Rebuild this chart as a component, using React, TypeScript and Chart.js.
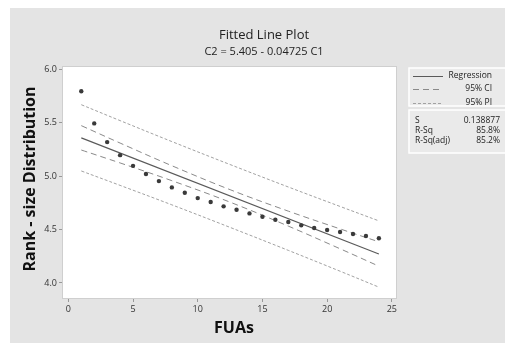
import React, { useEffect, useRef } from "react";
import { Chart, registerables } from "chart.js";

Chart.register(...registerables);

const fuas = [1, 2, 3, 4, 5, 6, 7, 8, 9, 10, 11, 12, 13, 14, 15, 16, 17, 18, 19, 20, 21, 22, 23, 24];
const rankSize = [5.794, 5.493, 5.318, 5.196, 5.096, 5.019, 4.953, 4.894, 4.844, 4.794, 4.757, 4.717, 4.685, 4.651, 4.62, 4.592, 4.57, 4.539, 4.514, 4.495, 4.477, 4.458, 4.439, 4.418];

const fitX = [1, 24];
const fitY = [5.358, 4.271];

const bandX = [1, 4, 8, 12.5, 17, 21, 24];
const ciUpper = [5.472, 5.309, 5.097, 4.873, 4.672, 4.506, 4.385];
const ciLower = [5.244, 5.123, 4.957, 4.756, 4.532, 4.32, 4.157];
const piUpper = [5.668, 5.519, 5.323, 5.108, 4.898, 4.716, 4.581];
const piLower = [5.048, 4.913, 4.731, 4.52, 4.305, 4.11, 3.961];

const xTicks = [0, 5, 10, 15, 20, 25];
const yTicks = [4.0, 4.5, 5.0, 5.5, 6.0];

const titleText = "Fitted Line Plot";
const subtitleText = "C2 = 5.405 - 0.04725 C1";
const xTitle = "FUAs";
const yTitle = "Rank - size Distribution";
const legendLabels = ["Regression", "95% CI", "95% PI"];
const statNames = ["S", "R-Sq", "R-Sq(adj)"];
const statValues = ["0.138877", "85.8%", "85.2%"];

const FONT = '"Open Sans", "Noto Sans", sans-serif';
const REG_COLOR = "#5a5a5a";
const CI_COLOR = "#8a8a8a";
const PI_COLOR = "#a2a2a2";
const CI_DASH = [6, 4];
const PI_DASH = [3, 2];

const pts = (xs: number[], ys: number[]) => xs.map((x, i) => ({ x, y: ys[i] }));

const decorPlugin = {
  id: "decor",
  beforeDraw(chart: any) {
    const { ctx, chartArea } = chart;
    ctx.save();
    ctx.fillStyle = "#ffffff";
    ctx.fillRect(0, 0, chart.width, chart.height);
    ctx.fillStyle = "#e4e4e4";
    ctx.fillRect(10, 8, chart.width - 10, chart.height - 8);
    ctx.fillStyle = "#ffffff";
    ctx.fillRect(chartArea.left, chartArea.top, chartArea.right - chartArea.left, chartArea.bottom - chartArea.top);
    ctx.restore();
  },
  beforeDatasetsDraw(chart: any) {
    const { ctx, chartArea } = chart;
    ctx.save();
    ctx.strokeStyle = "#cfcfcf";
    ctx.lineWidth = 1;
    ctx.strokeRect(chartArea.left + 0.5, chartArea.top + 0.5, chartArea.right - chartArea.left - 1, chartArea.bottom - chartArea.top - 1);
    ctx.restore();
  },
  afterDraw(chart: any) {
    const { ctx } = chart;
    ctx.save();
    ctx.textBaseline = "middle";
    ctx.textAlign = "center";
    ctx.fillStyle = "#222";
    ctx.font = `13px ${FONT}`;
    ctx.fillText(titleText, 264, 35);
    ctx.font = `11px ${FONT}`;
    ctx.fillText(subtitleText, 264, 52);

    ctx.fillStyle = "#111";
    ctx.font = `bold 16px ${FONT}`;
    ctx.fillText(xTitle, 234, 328);
    ctx.save();
    ctx.translate(30, 179);
    ctx.rotate(-Math.PI / 2);
    ctx.fillText(yTitle, 0, 0);
    ctx.restore();

    // legend boxes
    ctx.fillStyle = "#eaeaea";
    ctx.strokeStyle = "#ffffff";
    ctx.lineWidth = 1.5;
    ctx.fillRect(409, 68, 100, 38);
    ctx.strokeRect(409, 68, 100, 38);
    ctx.fillRect(409, 110, 100, 43);
    ctx.strokeRect(409, 110, 100, 43);

    const rows = [76, 89, 103];
    const styles = [
      { c: REG_COLOR, d: [] as number[] },
      { c: CI_COLOR, d: CI_DASH },
      { c: PI_COLOR, d: PI_DASH },
    ];
    ctx.lineWidth = 1;
    rows.forEach((y, i) => {
      ctx.beginPath();
      ctx.strokeStyle = styles[i].c;
      ctx.setLineDash(styles[i].d);
      ctx.moveTo(413, y + 0.5);
      ctx.lineTo(443, y + 0.5);
      ctx.stroke();
    });
    ctx.setLineDash([]);
    ctx.fillStyle = "#222";
    ctx.font = `8.5px ${FONT}`;
    ctx.textAlign = "right";
    legendLabels.forEach((t, i) => ctx.fillText(t, 492, rows[i]));

    const srows = [121, 131, 141];
    statNames.forEach((t, i) => {
      ctx.textAlign = "left";
      ctx.fillText(t, 415, srows[i]);
      ctx.textAlign = "right";
      ctx.fillText(statValues[i], 500, srows[i]);
    });
    ctx.restore();
  },
};

export default function App() {
  const ref = useRef<HTMLCanvasElement | null>(null);
  useEffect(() => {
    if (!ref.current) return;
    const lineDs = (xs: number[], ys: number[], color: string, dash: number[], width: number, tension: number) => ({
      data: pts(xs, ys),
      showLine: true,
      borderColor: color,
      borderDash: dash,
      borderWidth: width,
      pointRadius: 0,
      tension,
      fill: false,
    });
    const chart = new Chart(ref.current, {
      type: "scatter",
      data: {
        datasets: [
          {
            data: pts(fuas, rankSize),
            showLine: false,
            pointRadius: 2.2,
            pointBackgroundColor: "#3a3a3a",
            pointBorderWidth: 0,
            backgroundColor: "#3a3a3a",
          } as any,
          lineDs(fitX, fitY, REG_COLOR, [], 1.2, 0),
          lineDs(bandX, ciUpper, CI_COLOR, CI_DASH, 1, 0.4),
          lineDs(bandX, ciLower, CI_COLOR, CI_DASH, 1, 0.4),
          lineDs(bandX, piUpper, PI_COLOR, PI_DASH, 1, 0.4),
          lineDs(bandX, piLower, PI_COLOR, PI_DASH, 1, 0.4),
        ],
      },
      options: {
        animation: false,
        responsive: false,
        devicePixelRatio: 1,
        layout: { padding: { left: 10, right: 108, top: 66, bottom: 0 } },
        plugins: { legend: { display: false }, tooltip: { enabled: false }, title: { display: false } },
        scales: {
          x: {
            type: "linear",
            min: -0.49,
            max: 25.4,
            afterFit: (s: any) => { s.height = 44; },
            afterBuildTicks: (s: any) => { s.ticks = xTicks.map((v) => ({ value: v })); },
            grid: { drawOnChartArea: false, drawTicks: true, tickLength: 3, color: "#999" },
            border: { display: false },
            ticks: { color: "#333", font: { family: FONT, size: 9 }, padding: 2, maxRotation: 0, callback: (v: any) => String(v) },
          },
          y: {
            type: "linear",
            min: 3.85,
            max: 6.03,
            afterFit: (s: any) => { s.width = 52; },
            afterBuildTicks: (s: any) => { s.ticks = yTicks.map((v) => ({ value: v })); },
            grid: { drawOnChartArea: false, drawTicks: true, tickLength: 3, color: "#999" },
            border: { display: false },
            ticks: { color: "#333", font: { family: FONT, size: 9 }, padding: 2, callback: (v: any) => Number(v).toFixed(1) },
          },
        },
      } as any,
      plugins: [decorPlugin],
    });
    return () => chart.destroy();
  }, []);
  return (
    <div style={{ position: "fixed", left: 0, top: 0, width: 505, height: 343 }}>
      <canvas ref={ref} width={505} height={343} style={{ display: "block", width: 505, height: 343 }} />
    </div>
  );
}
